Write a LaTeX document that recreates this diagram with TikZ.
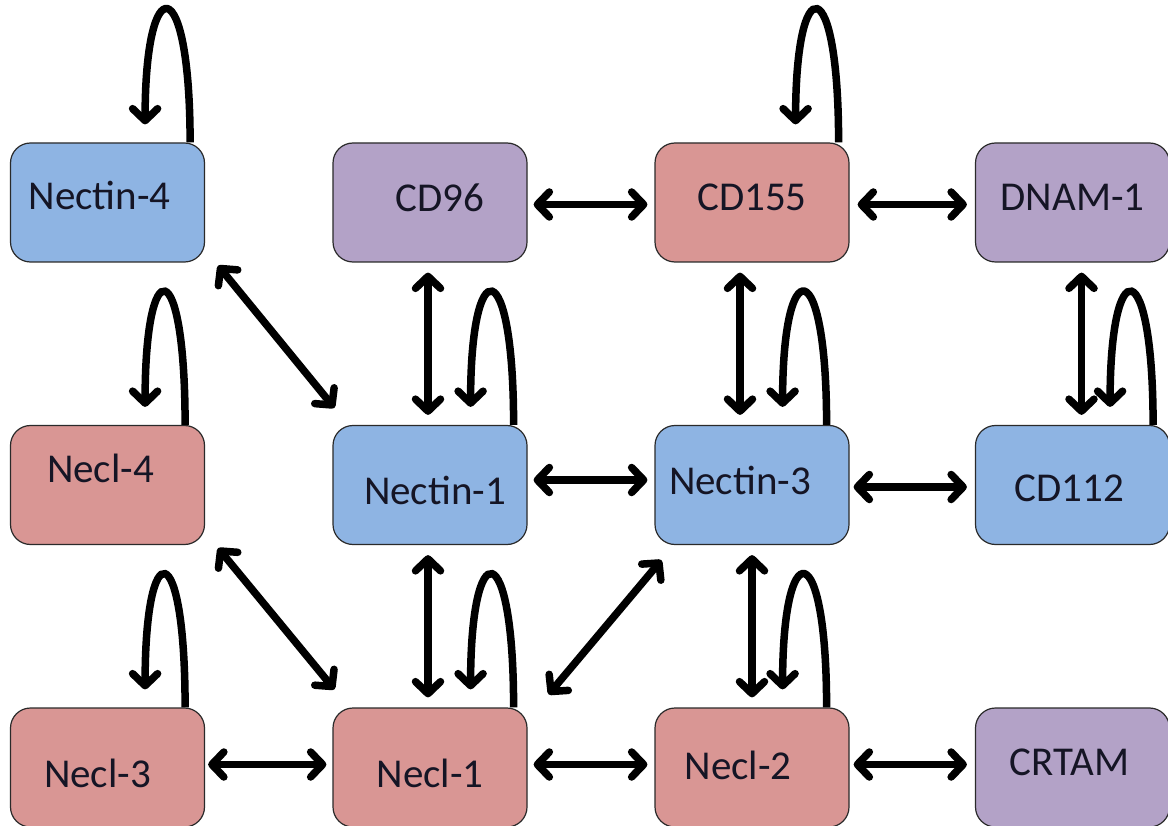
\documentclass[tikz,border=0pt]{standalone}
\usepackage{fontspec}
\setmainfont{Carlito}
\usetikzlibrary{arrows.meta,calc}
\definecolor{cblue}{HTML}{8EB4E3}
\definecolor{cred}{HTML}{D99694}
\definecolor{cpurple}{HTML}{B3A2C7}
\definecolor{cborder}{HTML}{2A2A2A}
\definecolor{ctext}{HTML}{151525}
\tikzset{
  box/.style={draw=cborder, line width=1.2pt, rounded corners=20pt,
    minimum width=194pt, minimum height=119pt, inner sep=0pt},
  lbl/.style={font=\fontsize{41}{48}\selectfont, text=ctext, inner sep=0pt},
  barb/.tip={Straight Barb[length=12pt,width=25pt,line cap=round,line join=round]},
  dbl/.style={line width=7.5pt, barb-barb},
  sgl/.style={line width=7.5pt, -barb},
}
\newcommand\myloop[3]{\draw[sgl] ([xshift=#2]#1.north east) .. controls +(0,-174) and +(0,-156) .. ([shift={(#3,-18)}]#1.north east);}
\begin{document}
\begin{tikzpicture}[x=1pt,y=-1pt]
\useasboundingbox[fill=white] (0,0) rectangle (1168,826);
% row 1
\node[box, fill=cblue, label={[lbl,shift={(-8,-7)}]center:Nectin-4}] (n4) at (107.5,202.5) {};
\node[box, fill=cpurple, label={[lbl,shift={(10,-5)}]center:CD96}] (cd96) at (430,202.5) {};
\node[box, fill=cred, label={[lbl,shift={(0,-5)}]center:CD155}] (cd155) at (752,202.5) {};
\node[box, fill=cpurple, label={[lbl,shift={(0,-5)}]center:DNAM-1}] (dnam) at (1072.5,202.5) {};
% row 2
\node[box, fill=cred, label={[lbl,shift={(-7,-17)}]center:Necl-4}] (nl4) at (107.5,485) {};
\node[box, fill=cblue, label={[lbl,shift={(5,5)}]center:Nectin-1}] (n1) at (430,485) {};
\node[box, fill=cblue, label={[lbl,shift={(-12,-5)}]center:Nectin-3}] (n3) at (752,485) {};
\node[box, fill=cblue, label={[lbl,shift={(-3,3)}]center:CD112}] (cd112) at (1072.5,485) {};
% row 3
\node[box, fill=cred, label={[lbl,shift={(-10,6)}]center:Necl-3}] (nl3) at (107.5,767.5) {};
\node[box, fill=cred, label={[lbl,shift={(0,6)}]center:Necl-1}] (nl1) at (430,767.5) {};
\node[box, fill=cred, label={[lbl,shift={(-14,-2)}]center:Necl-2}] (nl2) at (752,767.5) {};
\node[box, fill=cpurple, label={[lbl,shift={(-3,-5)}]center:CRTAM}] (crtam) at (1072.5,767.5) {};
% horizontal arrows
\draw[dbl, shorten <=6pt, shorten >=7pt] ([yshift=-2]cd96.east) -- ([yshift=-2]cd155.west);
\draw[dbl, shorten <=8pt, shorten >=8pt] ([yshift=-2]cd155.east) -- ([yshift=-2]dnam.west);
\draw[dbl, shorten <=6pt, shorten >=7pt] ([yshift=5]n1.east) -- ([yshift=5]n3.west);
\draw[dbl, shorten <=4pt, shorten >=8pt] ([yshift=-2]n3.east) -- ([yshift=-2]cd112.west);
\draw[dbl, shorten <=3pt, shorten >=6pt] ([yshift=3]nl3.east) -- ([yshift=3]nl1.west);
\draw[dbl, shorten <=6pt, shorten >=7pt] ([yshift=3]nl1.east) -- ([yshift=3]nl2.west);
\draw[dbl, shorten <=4pt, shorten >=8pt] ([yshift=3]nl2.east) -- ([yshift=3]crtam.west);
% vertical arrows
\draw[dbl, shorten <=10pt, shorten >=10pt] ([xshift=-2]cd96.south) -- ([xshift=-2]n1.north);
\draw[dbl, shorten <=10pt, shorten >=10pt] ([xshift=-12]cd155.south) -- ([xshift=-12]n3.north);
\draw[dbl, shorten <=10pt, shorten >=10pt] ([xshift=9]dnam.south) -- ([xshift=9]cd112.north);
\draw[dbl, shorten <=10pt, shorten >=10pt] ([xshift=-2]n1.south) -- ([xshift=-2]nl1.north);
\draw[dbl, shorten <=10pt, shorten >=10pt] (n3.south) -- (nl2.north);
% diagonal arrows
\draw[dbl] ([shift={(13,3)}]n4.south east) -- ([shift={(2,-17)}]n1.north west);
\draw[dbl] ([shift={(13,3)}]nl4.south east) -- ([shift={(2,-18)}]nl1.north west);
\draw[dbl] ([shift={(21,-13)}]nl1.north east) -- ([shift={(7,15)}]n3.south west);
% self loops
\myloop{n4}{-15}{-60}
\myloop{nl4}{-20}{-60}
\myloop{nl3}{-20}{-60}
\myloop{n1}{-14}{-57}
\myloop{nl1}{-14}{-57}
\myloop{cd155}{-11}{-54}
\myloop{n3}{-23}{-67}
\myloop{cd112}{-17}{-60}
\myloop{nl2}{-23}{-67}
\end{tikzpicture}
\end{document}
